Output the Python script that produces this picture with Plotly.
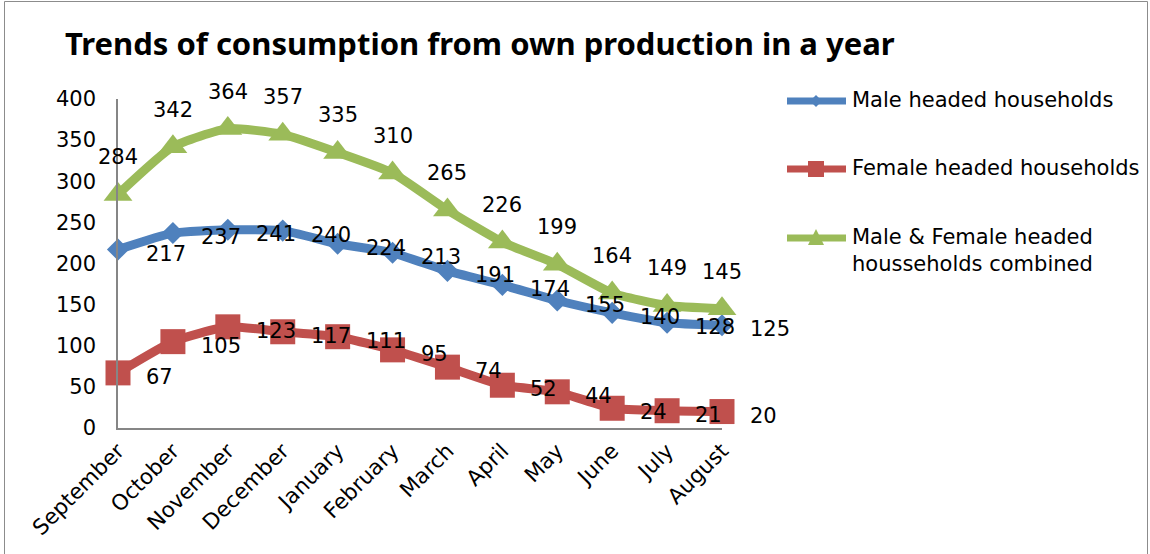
import plotly.graph_objects as go

# Monthly consumption from own production, by household head
months = ["September", "October", "November", "December", "January", "February",
          "March", "April", "May", "June", "July", "August"]
male = [217, 237, 241, 240, 224, 213, 191, 174, 155, 140, 128, 125]
female = [67, 105, 123, 117, 111, 95, 74, 52, 44, 24, 21, 20]
combined = [284, 342, 364, 357, 335, 310, 265, 226, 199, 164, 149, 145]

series_names = ["Male headed households", "Female headed households",
                "Male & Female headed<br>housseholds combined"]
BLUE, RED, GREEN = "#4F81BD", "#C0504D", "#9BBB59"
FONT = "DejaVu Sans"

fig = go.Figure()

specs = [
    (male, BLUE, "diamond", 17),
    (female, RED, "square", 25),
    (combined, GREEN, "triangle-up", 25),
]
for (vals, col, sym, size), name in zip(specs, series_names):
    fig.add_trace(go.Scatter(
        x=months, y=vals, mode="lines+markers", name=name,
        line=dict(color=col, width=9, shape="spline", smoothing=0.5),
        marker=dict(symbol=sym, size=size, color=col, line=dict(width=0)),
        showlegend=False, cliponaxis=False,
    ))

# value labels: male/female to the right of each point, combined above
annotations = []
for vals in (male, female):
    for m, v in zip(months, vals):
        annotations.append(dict(x=m, y=v, text=str(v), showarrow=False,
                                xanchor="left", yanchor="middle",
                                xshift=26, yshift=-4,
                                font=dict(family=FONT, size=21, color="#000")))
for m, v in zip(months, combined):
    annotations.append(dict(x=m, y=v, text=str(v), showarrow=False,
                            xanchor="center", yanchor="middle", yshift=37,
                            font=dict(family=FONT, size=21, color="#000")))

# plot-area geometry in pixels, used to place the legend in paper units
L, R, T, B = 118, 722, 99, 428
W, H = R - L, B - T
def px(x):
    return (x - L) / W
def py(y):
    return (B - y) / H

shapes = []
legend_rows = [(101, BLUE, "diamond"), (169, RED, "square"), (238, GREEN, "triangle")]
for (ly, col, kind), name in zip(legend_rows, series_names):
    shapes.append(dict(type="line", xref="paper", yref="paper",
                       x0=px(787), x1=px(846), y0=py(ly), y1=py(ly),
                       line=dict(color=col, width=7)))
    if kind == "diamond":
        path = "M-6,0 L0,6 L6,0 L0,-6 Z"
    elif kind == "square":
        path = "M-8,-8 L8,-8 L8,8 L-8,8 Z"
    else:
        path = "M-8,-7 L8,-7 L0,9 Z"
    shapes.append(dict(type="path", xref="paper", yref="paper",
                       xsizemode="pixel", ysizemode="pixel",
                       xanchor=px(816), yanchor=py(ly), path=path,
                       fillcolor=col, line=dict(width=0)))
    annotations.append(dict(xref="paper", yref="paper", x=px(850), y=py(ly),
                            text=name, showarrow=False, xanchor="left",
                            yanchor="top", yshift=15, align="left",
                            font=dict(family=FONT, size=21, color="#000")))

# outer chart frame
shapes.append(dict(type="rect", xref="paper", yref="paper",
                   x0=px(4.5), x1=px(1147.5), y0=py(600), y1=py(1.5),
                   line=dict(color="#8C8C8C", width=1), fillcolor="rgba(0,0,0,0)"))

fig.update_layout(
    width=1150, height=554,
    margin=dict(l=L, r=1150 - R, t=T, b=554 - B),
    paper_bgcolor="white", plot_bgcolor="white",
    title=dict(text="<b>Trends of consumption from own production in a year</b>",
               x=65 / 1150, xanchor="left", y=1 - 44 / 554, yanchor="middle",
               font=dict(family="Noto Sans", size=31, color="#000")),
    xaxis=dict(type="category", range=[0, len(months) - 1], showgrid=False,
               showline=True, linecolor="#868686", linewidth=1.5,
               ticks="", tickangle=-45,
               tickfont=dict(family=FONT, size=21.5, color="#000")),
    yaxis=dict(range=[0, 400], dtick=50, showgrid=False, zeroline=False,
               showline=True, linecolor="#868686", linewidth=1.5,
               ticks="", ticklabelstandoff=16,
               tickfont=dict(family=FONT, size=21, color="#000")),
    annotations=annotations, shapes=shapes, showlegend=False,
)

fig.write_html("out.html")
